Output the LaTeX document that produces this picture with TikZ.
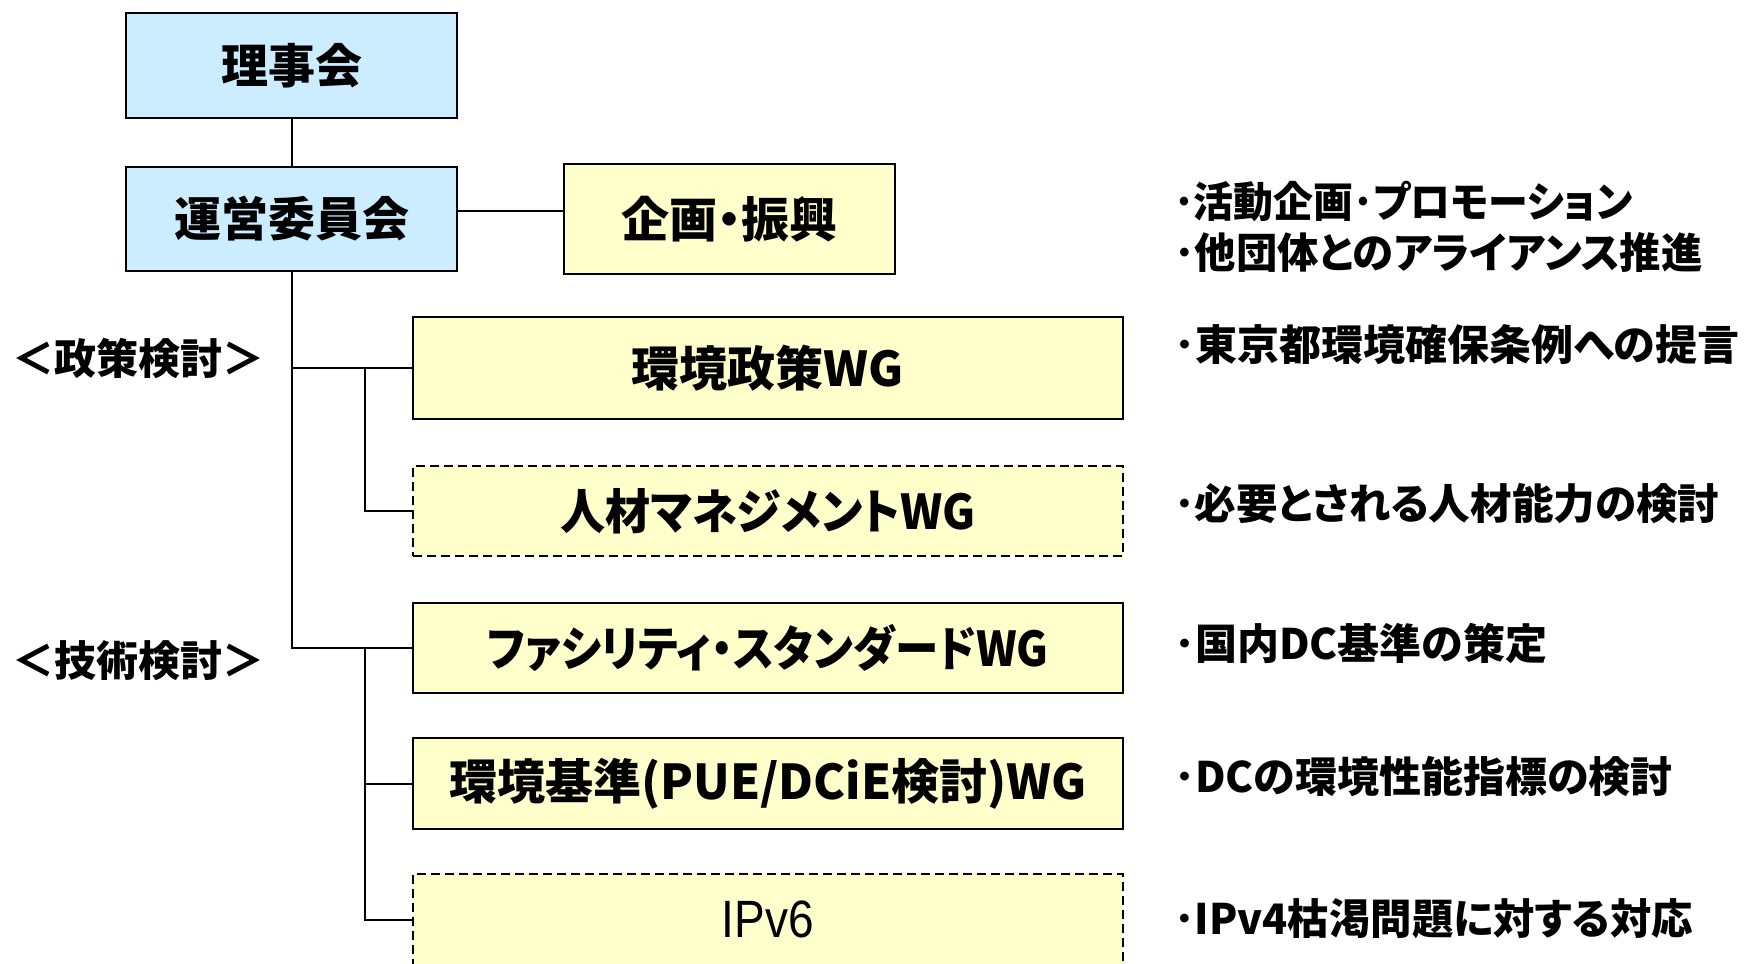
\documentclass[tikz,border=0pt]{standalone}
\usepackage{fontspec}
\newfontfamily\jp{Noto Sans CJK JP}[RawFeature=+palt]
\newfontfamily\arial{Liberation Sans}
\definecolor{boxblue}{HTML}{CCECFF}
\definecolor{boxyellow}{HTML}{FFFFCC}
\begin{document}
\begin{tikzpicture}[x=0.5pt,y=-0.5pt,
  every node/.style={inner sep=0pt,outer sep=0pt},
  bluebox/.style={draw=black,line width=1pt,fill=boxblue,minimum width=165.5pt,font=\jp\bfseries\fontsize{23.5}{26}\selectfont},
  ybox/.style={draw=black,line width=1pt,fill=boxyellow,font=\jp\bfseries\fontsize{24}{27}\selectfont},
  wgbox/.style={ybox,minimum width=355pt},
  dbox/.style={wgbox,dash pattern=on 4.5pt off 2.5pt},
  conn/.style={line width=1pt,draw=black},
  side/.style={anchor=west,font=\jp\bfseries\fontsize{21}{24}\selectfont},
  note/.style={anchor=west,font=\jp\bfseries\fontsize{21}{24}\selectfont}]
\clip (0,0) rectangle (1744,963);
\fill[white] (0,0) rectangle (1744,963);
% top boxes
\node[bluebox,minimum height=52.5pt] (rijikai) at (291.5,65.5) {理事会};
\node[bluebox,minimum height=52pt] (unei) at (291.5,219) {運営委員会};
\node[ybox,minimum width=165.5pt,minimum height=55pt] (kikaku) at (729.5,219) {企画・振興};
% WG boxes
\node[wgbox,minimum height=51pt] (seisaku) at (768,368) {環境政策WG};
\node[dbox,minimum height=45pt] (jinzai) at (768,511) {\scalebox{0.94}[1]{人材マネジメントWG}};
\node[wgbox,minimum height=45pt] (facility) at (768,648) {\scalebox{0.906}[1]{ファシリティ・スタンダードWG}};
\node[wgbox,minimum height=45.5pt] (kijun) at (768,783.5) {環境基準(PUE/DCiE検討)WG};
\node[dbox,minimum height=45.5pt,font=\arial\fontsize{25}{28}\selectfont] (ipv6) at (768,919.5) {\scalebox{0.92}[1.05]{IPv6}};
% connectors
\draw[conn] (rijikai) -- (unei);
\draw[conn] ([yshift=4pt]unei.east) -- ([yshift=4pt]kikaku.west);
\draw[conn] (unei.south) |- (facility.west);
\draw[conn] (unei.south |- seisaku.west) -- (seisaku.west);
\coordinate (b1) at (365,368);
\coordinate (b2) at (365,648);
\draw[conn] (b1) |- (jinzai.west);
\draw[conn] (b2) |- (kijun.west);
\draw[conn] (b2) |- (ipv6.west);
% side labels
\node[side] (lab1) at (12,358) {＜政策検討＞};
\node[side] (lab2) at (12,661) {＜技術検討＞};
% notes
\node[note] (n1) at (1174,201) {\scalebox{0.95}[1]{･活動企画･プロモーション}};
\node[note] (n2) at (1174,252) {\scalebox{0.985}[1]{･他団体とのアライアンス推進}};
\node[note] (n3) at (1174,345) {･東京都環境確保条例への提言};
\node[note] (n4) at (1174,504) {\scalebox{0.99}[1]{･必要とされる人材能力の検討}};
\node[note] (n5) at (1174,643) {･国内DC基準の策定};
\node[note] (n6) at (1174,777) {･DCの環境性能指標の検討};
\node[note] (n7) at (1174,919) {\scalebox{0.985}[1]{･IPv4枯渇問題に対する対応}};
\end{tikzpicture}
\end{document}
